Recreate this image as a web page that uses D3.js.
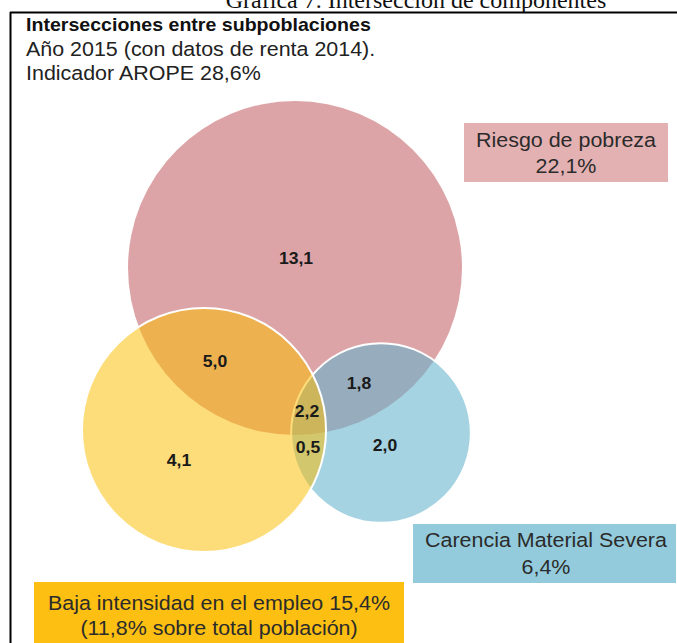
<!DOCTYPE html>
<html>
<head>
<meta charset="utf-8">
<script src="https://cdn.jsdelivr.net/npm/d3@7"></script>
<style>
  body { margin: 0; background: #fff; }
  svg { display: block; }
</style>
</head>
<body>
<div id="chart"></div>
<script>
// data
const setKeys = ['pobreza', 'carencia', 'empleo'];
const setNames = ['Riesgo de pobreza', 'Carencia Material Severa', 'Baja intensidad en el empleo'];
const setValues = [22.1, 6.4, 15.4];
const circleValues = [22.1, 6.4, 11.8]; // circle area follows the share of total population
const empleoTotal = 11.8;

const regionValues = [13.1, 5.0, 4.1, 2.2, 0.5, 1.8, 2.0];
const regionSets = ['P', 'PE', 'E', 'PEC', 'EC', 'PC', 'C'];

const titleLines = ['Intersecciones entre subpoblaciones', 'Año 2015 (con datos de renta 2014).', 'Indicador AROPE 28,6%'];
const pageTitle = 'Gráfica 7. Intersección de componentes';

const width = 677, height = 643;

const es = d3.formatLocale({decimal: ',', thousands: '.', grouping: [3], currency: ['', '€']});
const f1 = es.format('.1f');

// venn layout, in units of the big circle's radius
const centers = {
  pobreza: [0, 0],
  carencia: [0.515, 0.988],
  empleo: [-0.545, 0.97]
};
const labelPos = {
  P: [0.006, -0.06],
  PE: [-0.479, 0.557],
  E: [-0.695, 1.15],
  PEC: [0.072, 0.856],
  EC: [0.078, 1.072],
  PC: [0.383, 0.689],
  C: [0.539, 1.06]
};

const colors = {
  pobreza: {fill: '#dda4a7', op: 1, stroke: 'none'},
  carencia: {fill: '#64b3cd', op: 0.58, stroke: '#fff'},
  empleo: {fill: '#fbbd04', op: 0.53, stroke: '#fff'}
};

let svg = d3.select('#chart')
  .append('svg')
  .attr('width', width)
  .attr('height', height)
  .style('font-family', '"Liberation Sans", Arial, sans-serif');

// scales
let x = d3.scaleLinear().domain([-1, 1]).range([128, 462]);
let y = d3.scaleLinear().domain([-1, 1]).range([101, 435]);
let r = d3.scaleSqrt().domain([0, d3.max(circleValues)]).range([0, 167]);

// text helper, source text is a bit wider than Arial
function txt(g, px, py, s, size, weight, fill) {
  return g.append('text')
    .attr('transform', `translate(${px},${py}) scale(1.1,1)`)
    .attr('text-anchor', 'middle')
    .style('font-size', size + 'px')
    .style('font-weight', weight || 'normal')
    .attr('fill', fill || '#2b2b2b')
    .text(s);
}

// heading of the page, cut at the top
svg.append('text')
  .attr('x', 416)
  .attr('y', 8)
  .attr('text-anchor', 'middle')
  .style('font-family', '"Liberation Serif", "Times New Roman", serif')
  .style('font-size', '24px')
  .attr('fill', '#111')
  .text(pageTitle);

// frame
svg.append('line').attr('x1', 10).attr('x2', width).attr('y1', 12.5).attr('y2', 12.5)
  .attr('stroke', '#000').attr('stroke-width', 2);
svg.append('line').attr('x1', 10.5).attr('x2', 10.5).attr('y1', 12).attr('y2', height)
  .attr('stroke', '#000').attr('stroke-width', 2);

// title lines
titleLines.forEach(function(t, i) {
  svg.append('text')
    .attr('transform', `translate(26,${31 + i * 24.5}) scale(1.1,1)`)
    .style('font-size', i == 0 ? '17.8px' : '19.5px')
    .style('font-weight', i == 0 ? 'bold' : 'normal')
    .attr('fill', i == 0 ? '#111' : '#222')
    .text(t);
});

// circles: pobreza, carencia, empleo on top
let order = ['pobreza', 'carencia', 'empleo'];
svg.selectAll('circle.set')
  .data(order)
  .enter()
  .append('circle')
  .attr('class', 'set')
  .attr('cx', function(k) { return x(centers[k][0]); })
  .attr('cy', function(k) { return y(centers[k][1]); })
  .attr('r', function(k) { return r(circleValues[setKeys.indexOf(k)]); })
  .attr('fill', function(k) { return colors[k].fill; })
  .attr('fill-opacity', function(k) { return colors[k].op; })
  .attr('stroke', function(k) { return colors[k].stroke; })
  .attr('stroke-width', 2);

// region values
let rg = svg.append('g');
regionSets.forEach(function(k, i) {
  txt(rg, x(labelPos[k][0]), y(labelPos[k][1]), f1(regionValues[i]), 16, 'bold', '#1a1a1a')
    .attr('dy', '0.35em');
});

// legend boxes
let boxes = [
  {x0: 464, x1: 668, y0: 123, y1: 182, fill: '#e4b1b3', cx: 566,
    lines: [setNames[0], f1(setValues[0]) + '%'], b: [147, 173]},
  {x0: 413, x1: 676, y0: 524, y1: 583, fill: '#93cbdc', cx: 546,
    lines: [setNames[1], f1(setValues[1]) + '%'], b: [547, 574]},
  {x0: 34, x1: 404, y0: 582, y1: 645, fill: '#fcbf12', cx: 219,
    lines: [setNames[2] + ' ' + f1(setValues[2]) + '%', '(' + f1(empleoTotal) + '% sobre total población)'], b: [610, 635]}
];
boxes.forEach(function(b) {
  svg.append('rect')
    .attr('x', b.x0).attr('y', b.y0)
    .attr('width', b.x1 - b.x0).attr('height', b.y1 - b.y0)
    .attr('fill', b.fill);
  b.lines.forEach(function(l, i) {
    txt(svg, b.cx, b.b[i], l, 19.5, 'normal', '#2b2b2b');
  });
});
</script>
</body>
</html>
